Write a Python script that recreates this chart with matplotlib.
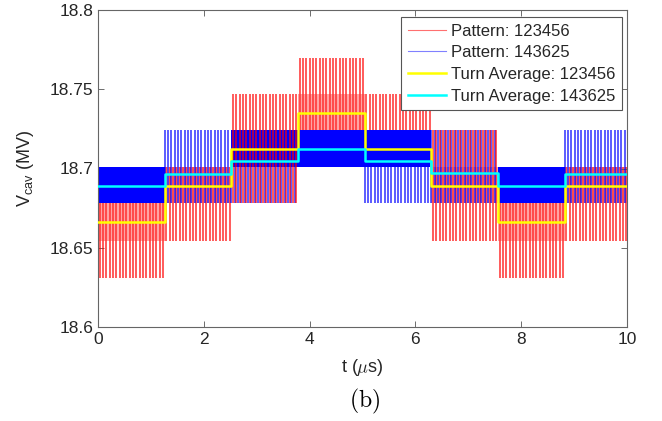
import matplotlib
matplotlib.use('Agg')
import matplotlib.pyplot as plt
import numpy as np
from matplotlib.lines import Line2D

plt.rcParams['font.family'] = ['Liberation Sans', 'DejaVu Sans']
plt.rcParams['mathtext.fontset'] = 'custom'
plt.rcParams['mathtext.rm'] = 'Liberation Sans'
plt.rcParams['mathtext.it'] = 'Liberation Sans:italic'

# ---------------- data ----------------
seg_edges = [0.0, 1.26, 2.52, 3.78, 5.04, 6.30, 7.56, 8.82, 10.08]
stripes_per_seg = 20

red_avg = [18.666, 18.689, 18.712, 18.735, 18.712, 18.689, 18.666, 18.689]
blue_avg = [18.689, 18.6965, 18.705, 18.712, 18.705, 18.697, 18.689, 18.6965]

red_dense = [(18.654, 18.678), (18.678, 18.701), (18.701, 18.724), (18.724, 18.747),
             (18.701, 18.724), (18.678, 18.701), (18.654, 18.678), (18.678, 18.701)]
red_sparse = [[(18.631, 18.654)], [(18.654, 18.678)], [(18.678, 18.747)], [(18.747, 18.770)],
              [(18.724, 18.747)], [(18.701, 18.724), (18.654, 18.678)], [(18.631, 18.654)],
              [(18.654, 18.678)]]
blue_dense = [(18.678, 18.701), None, (18.701, 18.724), (18.701, 18.724),
              (18.701, 18.724), None, (18.678, 18.701), None]
blue_sparse = [[], [(18.678, 18.724)], [(18.678, 18.701)], [],
               [(18.678, 18.701)], [(18.678, 18.724)], [], [(18.678, 18.724)]]

legend_labels = ['Pattern: 123456', 'Pattern: 143625',
                 'Turn Average: 123456', 'Turn Average: 143625']

# ---------------- figure ----------------
fig = plt.figure(figsize=(6.62, 4.21), dpi=100)
ax = fig.add_axes([98/662, 1-327/421, 529/662, 317/421])


def stripes(x0, x1, lo, hi, offset, color, lw, alpha, z):
    dx = (x1 - x0) / stripes_per_seg
    xs = x0 + (np.arange(stripes_per_seg) + offset) * dx
    ax.vlines(xs, lo, hi, colors=color, lw=lw, alpha=alpha, zorder=z)


def band(x0, x1, lo, hi, color, z):
    ax.fill_between([x0, x1], [lo, lo], [hi, hi], color=color, lw=0, zorder=z)


for i in range(len(seg_edges) - 1):
    x0, x1 = seg_edges[i], seg_edges[i + 1]
    lo, hi = red_dense[i]
    band(x0, x1, lo, hi, '#ffa3a3', 1.0)
    stripes(x0, x1, lo, hi, 0.5, '#ff2020', 1.2, 0.8, 1.1)
    if blue_dense[i] is not None:
        lo, hi = blue_dense[i]
        band(x0, x1, lo, hi, '#0000ff', 2.0)
    for lo, hi in blue_sparse[i]:
        stripes(x0, x1, lo, hi, 0.0, '#0000ff', 1.2, 0.75, 2.1)
    for lo, hi in red_sparse[i]:
        stripes(x0, x1, lo, hi, 0.5, '#ff0000', 1.2, 0.75, 2.2)

ax.step(seg_edges, red_avg + [red_avg[-1]], where='post', color='#ffff00', lw=1.8, zorder=3)
ax.step(seg_edges, blue_avg + [blue_avg[-1]], where='post', color='#00ffff', lw=1.8, zorder=3.1)

ax.set_xlim(0, 10)
ax.set_ylim(18.6, 18.8)
ax.set_xticks([0, 2, 4, 6, 8, 10])
ax.set_yticks([18.6, 18.65, 18.7, 18.75, 18.8])
ax.set_yticklabels(['18.6', '18.65', '18.7', '18.75', '18.8'])
ax.tick_params(direction='in', length=4, width=0.6, top=True, right=True,
               labelsize=12.5, colors='#555555', labelcolor='#262626')
for s in ax.spines.values():
    s.set_color('#666666')
    s.set_linewidth(0.8)

ax.set_xlabel(r't ($\mu$s)', fontsize=13, color='#262626', labelpad=7,
              math_fontfamily='cm')
ax.set_ylabel(r'$\mathrm{V_{cav}}$ (MV)', fontsize=13, color='#262626', labelpad=10)

handles = [Line2D([], [], color='#ff7070', lw=0.8),
           Line2D([], [], color='#8080ff', lw=0.8),
           Line2D([], [], color='#ffff00', lw=1.8),
           Line2D([], [], color='#00ffff', lw=1.8)]
leg = ax.legend(handles, legend_labels, loc='upper right',
                bbox_to_anchor=(0.9905, 0.978), borderaxespad=0,
                fontsize=12, fancybox=False, framealpha=1, edgecolor='#555555',
                handlelength=2.3, handletextpad=0.3, labelspacing=0.4,
                borderpad=0.4)
leg.get_frame().set_linewidth(0.8)
for t in leg.get_texts():
    t.set_color('#262626')

fig.text(365/662, 1-401/421, r'$\mathrm{(b)}$', fontsize=17, ha='center', va='center',
         math_fontfamily='cm', color='black')

fig.savefig('out.png', dpi=100)
